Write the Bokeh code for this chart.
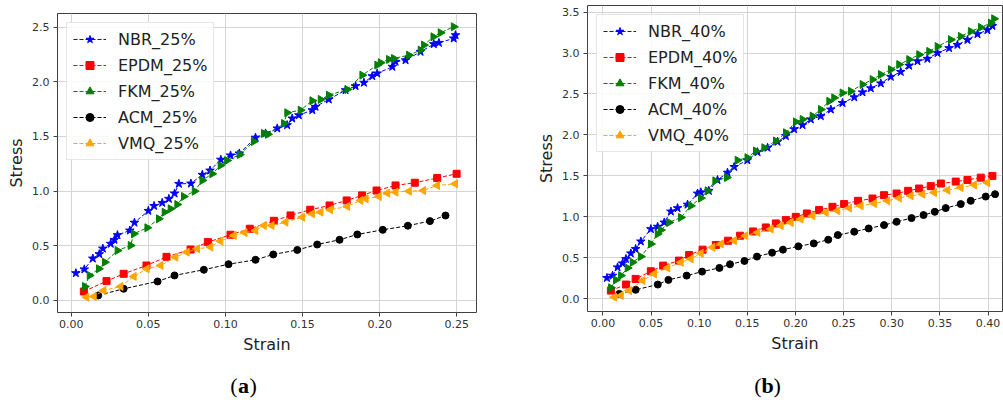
import math
from bokeh.plotting import figure
from bokeh.layouts import row, column
from bokeh.models import Range1d, FixedTicker, Legend, LegendItem, Label
from bokeh.embed import file_html
from bokeh.resources import INLINE

# ---------------- data: panel (a) 25% ----------------
nbr25_x = [0.003, 0.0085, 0.014, 0.0182, 0.0205, 0.0256, 0.028, 0.030, 0.038, 0.041, 0.050, 0.0537, 0.059, 0.0633,
           0.067, 0.0698, 0.0776, 0.085, 0.090, 0.097, 0.1033, 0.109, 0.1195, 0.126, 0.1336, 0.140, 0.1433, 0.1476,
           0.1563, 0.1584, 0.167, 0.1779, 0.1844, 0.1898, 0.1952, 0.1984, 0.2082, 0.2103, 0.2168, 0.2265, 0.2351,
           0.2384, 0.248, 0.2492]
nbr25_y = [0.25, 0.285, 0.384, 0.424, 0.475, 0.519, 0.555, 0.598, 0.64, 0.712, 0.82, 0.865, 0.893, 0.93,
           0.979, 1.067, 1.07, 1.15, 1.189, 1.288, 1.327, 1.345, 1.49, 1.528, 1.574, 1.604, 1.665, 1.695,
           1.741, 1.772, 1.839, 1.924, 1.961, 1.992, 2.052, 2.077, 2.138, 2.184, 2.198, 2.275, 2.345,
           2.357, 2.397, 2.427]

epdm25_x = [0.0082, 0.0229, 0.034, 0.0488, 0.0618, 0.0774, 0.0886, 0.1033, 0.1158, 0.1314, 0.1422, 0.155, 0.1675,
            0.1786, 0.1886, 0.198, 0.2103, 0.2228, 0.2373, 0.2499]
epdm25_y = [0.082, 0.177, 0.244, 0.320, 0.399, 0.466, 0.534, 0.601, 0.656, 0.729, 0.778, 0.830, 0.869,
            0.915, 0.961, 1.006, 1.052, 1.077, 1.12, 1.159]

fkm25_x = [0.0088, 0.0119, 0.0179, 0.0218, 0.030, 0.0385, 0.0406, 0.0493, 0.0568, 0.0605, 0.0644, 0.0687, 0.073,
           0.080, 0.085, 0.0914, 0.0968, 0.101, 0.1093, 0.1184, 0.1249, 0.1275, 0.1379, 0.140, 0.1487, 0.1563,
           0.1617, 0.167, 0.179, 0.1887, 0.1984, 0.2006, 0.206, 0.2092, 0.219, 0.2265, 0.2287, 0.2348, 0.2395, 0.248]
fkm25_y = [0.128, 0.229, 0.29, 0.35, 0.457, 0.503, 0.61, 0.665, 0.747, 0.808, 0.839, 0.878, 0.951,
           1.0, 1.098, 1.159, 1.235, 1.28, 1.335, 1.455, 1.528, 1.52, 1.619, 1.717, 1.741, 1.827,
           1.839, 1.878, 1.93, 2.061, 2.153, 2.175, 2.205, 2.214, 2.244, 2.29, 2.336, 2.412, 2.449, 2.504]

acm25_x = [0.0175, 0.034, 0.056, 0.067, 0.086, 0.102, 0.1195, 0.131, 0.1466, 0.1595, 0.174, 0.1855, 0.202, 0.2183,
           0.2326, 0.2427]
acm25_y = [0.046, 0.107, 0.174, 0.229, 0.281, 0.332, 0.372, 0.421, 0.462, 0.512, 0.555, 0.604, 0.646, 0.684,
           0.726, 0.777]

vmq25_x = [0.0099, 0.0147, 0.021, 0.032, 0.0406, 0.049, 0.058, 0.0676, 0.075, 0.0817, 0.0903, 0.0968, 0.1055,
           0.1125, 0.1195, 0.125, 0.130, 0.139, 0.1498, 0.1563, 0.1617, 0.168, 0.179, 0.1876, 0.191, 0.1995,
           0.205, 0.2103, 0.219, 0.2283, 0.2373, 0.249]
vmq25_y = [0.03, 0.037, 0.091, 0.128, 0.22, 0.29, 0.32, 0.396, 0.442, 0.473, 0.488, 0.543, 0.595,
           0.62, 0.64, 0.686, 0.686, 0.716, 0.762, 0.793, 0.808, 0.83, 0.86, 0.915, 0.93, 0.951,
           0.982, 0.991, 1.0, 1.006, 1.052, 1.067]

# ---------------- data: panel (b) 40% ----------------
nbr40_x = [0.0042, 0.010, 0.0152, 0.0204, 0.0239, 0.029, 0.034, 0.0394, 0.0498, 0.0568, 0.0637, 0.0706, 0.0775,
           0.0879, 0.0983, 0.1017, 0.110, 0.119, 0.1294, 0.1363, 0.150, 0.1606, 0.171, 0.1814, 0.19, 0.1986,
           0.2073, 0.2159, 0.2263, 0.2367, 0.2488, 0.261, 0.2696, 0.2782, 0.2886, 0.299, 0.3093, 0.318,
           0.3267, 0.337, 0.3475, 0.3595, 0.3682, 0.3786, 0.389, 0.3993, 0.4045]
nbr40_y = [0.255, 0.283, 0.384, 0.433, 0.486, 0.555, 0.608, 0.70, 0.851, 0.88, 0.932, 1.066, 1.107,
           1.15, 1.285, 1.30, 1.318, 1.45, 1.54, 1.61, 1.691, 1.79, 1.844, 1.917, 1.987, 2.07,
           2.12, 2.19, 2.23, 2.311, 2.39, 2.46, 2.52, 2.57, 2.63, 2.71, 2.77, 2.845,
           2.9, 2.93, 3.0, 3.06, 3.10, 3.16, 3.23, 3.28, 3.33]

epdm40_x = [0.0083, 0.0239, 0.034, 0.0498, 0.0626, 0.079, 0.0896, 0.1035, 0.1173, 0.130, 0.1425, 0.156, 0.1692,
            0.1796, 0.19, 0.2003, 0.2118, 0.2245, 0.2384, 0.2505, 0.265, 0.28, 0.292, 0.305, 0.317, 0.3284,
            0.3405, 0.351, 0.3664, 0.3786, 0.3924, 0.4045]
epdm40_y = [0.10, 0.174, 0.243, 0.336, 0.405, 0.466, 0.535, 0.60, 0.657, 0.709, 0.770, 0.822, 0.871,
            0.92, 0.961, 1.0, 1.041, 1.083, 1.123, 1.156, 1.196, 1.224, 1.265, 1.285, 1.318, 1.346,
            1.375, 1.407, 1.431, 1.451, 1.479, 1.50]

fkm40_x = [0.0083, 0.0135, 0.0187, 0.0256, 0.0308, 0.0394, 0.0498, 0.0568, 0.0602, 0.0688, 0.081, 0.0913, 0.1017,
           0.1087, 0.1166, 0.1287, 0.1398, 0.150, 0.1588, 0.1675, 0.1796, 0.19, 0.2003, 0.2073, 0.2177, 0.2263,
           0.235, 0.2401, 0.2488, 0.2574, 0.2696, 0.28, 0.2886, 0.299, 0.3076, 0.318, 0.3284, 0.3388, 0.3475,
           0.3613, 0.3716, 0.382, 0.3924, 0.4028, 0.4062]
fkm40_y = [0.134, 0.231, 0.283, 0.377, 0.445, 0.515, 0.669, 0.791, 0.839, 0.932, 0.993, 1.135, 1.229,
           1.318, 1.44, 1.48, 1.691, 1.723, 1.804, 1.844, 1.926, 2.027, 2.16, 2.19, 2.23, 2.311,
           2.412, 2.453, 2.513, 2.534, 2.616, 2.676, 2.737, 2.798, 2.859, 2.92, 2.98, 3.02, 3.08,
           3.163, 3.203, 3.264, 3.313, 3.365, 3.418]

acm40_x = [0.017, 0.034, 0.057, 0.068, 0.087, 0.103, 0.121, 0.132, 0.147, 0.160, 0.1757, 0.187, 0.203, 0.219,
           0.234, 0.244, 0.261, 0.276, 0.292, 0.305, 0.3205, 0.333, 0.3447, 0.356, 0.3716, 0.382, 0.3976, 0.4073]
acm40_y = [0.06, 0.11, 0.174, 0.231, 0.283, 0.332, 0.377, 0.421, 0.462, 0.515, 0.563, 0.60, 0.64, 0.676,
           0.721, 0.778, 0.819, 0.859, 0.90, 0.94, 0.985, 1.022, 1.062, 1.107, 1.156, 1.196, 1.248, 1.277]

vmq40_x = [0.0117, 0.0187, 0.0273, 0.0412, 0.0533, 0.0671, 0.081, 0.0913, 0.1017, 0.1138, 0.1225, 0.1363, 0.148,
           0.1606, 0.1744, 0.1848, 0.1952, 0.2055, 0.2177, 0.2315, 0.2436, 0.2557, 0.2678, 0.2816, 0.2955,
           0.3076, 0.3197, 0.3319, 0.344, 0.3578, 0.3716, 0.3855, 0.3993]
vmq40_y = [0.02, 0.04, 0.10, 0.223, 0.304, 0.377, 0.445, 0.487, 0.555, 0.628, 0.669, 0.709, 0.77,
           0.81, 0.852, 0.892, 0.932, 0.973, 1.013, 1.054, 1.074, 1.107, 1.135, 1.163, 1.196,
           1.229, 1.257, 1.277, 1.297, 1.326, 1.358, 1.39, 1.418]

# ---------------- ticks / labels ----------------
xticks_a = [0.00, 0.05, 0.10, 0.15, 0.20, 0.25]
yticks_a = [0.0, 0.5, 1.0, 1.5, 2.0, 2.5]
xticks_b = [0.00, 0.05, 0.10, 0.15, 0.20, 0.25, 0.30, 0.35, 0.40]
yticks_b = [0.0, 0.5, 1.0, 1.5, 2.0, 2.5, 3.0, 3.5]

series_names = ["NBR", "EPDM", "FKM", "ACM", "VMQ"]
colors = ["blue", "red", "green", "black", "orange"]
markers = ["star", "square", "triangle", "circle", "triangle"]
angles = [0.0, 0.0, -math.pi / 2, 0.0, math.pi / 2]
sizes = [9, 7, 8, 7, 8]

FONT = "DejaVu Sans"
CAP_FONT = "Liberation Serif"
MAIN_H = 370
CAP_H = 30


def make_panel(width, xr, yr, xticks, yticks, data, pct, borders):
    bl, br, bt, bb = borders
    p = figure(width=width, height=MAIN_H, output_backend="svg", toolbar_location=None,
               x_range=Range1d(*xr), y_range=Range1d(*yr),
               min_border_left=bl, min_border_right=br, min_border_top=bt, min_border_bottom=bb)
    p.background_fill_color = "white"
    p.border_fill_color = "white"
    p.outline_line_color = "#404040"
    p.outline_line_width = 1

    p.xaxis.ticker = FixedTicker(ticks=xticks)
    p.yaxis.ticker = FixedTicker(ticks=yticks)
    p.xaxis.major_label_overrides = {t: f"{t:.2f}" for t in xticks}
    p.yaxis.major_label_overrides = {t: f"{t:.1f}" for t in yticks}
    for ax in (p.xaxis, p.yaxis):
        ax.axis_line_color = None
        ax.major_tick_line_color = "#404040"
        ax.major_tick_out = 4
        ax.major_tick_in = 0
        ax.minor_tick_line_color = None
        ax.major_label_text_font = FONT
        ax.major_label_text_font_size = "11px"
        ax.major_label_text_color = "#333333"
        ax.axis_label_text_font = FONT
        ax.axis_label_text_font_size = "16px"
        ax.axis_label_text_font_style = "normal"
        ax.axis_label_text_color = "#222222"
    p.xaxis.major_label_standoff = 3
    p.yaxis.major_label_standoff = 4
    p.xaxis.axis_label = "Strain"
    p.yaxis.axis_label = "Stress"
    p.xaxis.axis_label_standoff = 4
    p.yaxis.axis_label_standoff = 3

    p.xgrid.grid_line_color = "#d4d4d4"
    p.ygrid.grid_line_color = "#d4d4d4"
    p.xgrid.grid_line_width = 1
    p.ygrid.grid_line_width = 1

    items = []
    for (xs, ys), name, c, m, a, s in zip(data, series_names, colors, markers, angles, sizes):
        ln = p.line(xs, ys, line_color=c, line_width=1, line_dash="4 2")
        sc = p.scatter(xs, ys, marker=m, size=s, angle=a, fill_color=c, line_color=c)
        items.append(LegendItem(label=f"{name}_{pct}", renderers=[ln, sc]))

    leg = Legend(items=items, location="top_left")
    leg.label_text_font = FONT
    leg.label_text_font_size = "16px"
    leg.label_text_color = "#222222"
    leg.label_height = 20
    leg.glyph_height = 20
    leg.glyph_width = 33
    leg.spacing = 6
    leg.padding = 6
    leg.margin = 9
    leg.label_standoff = 12
    leg.border_line_color = "#cccccc"
    leg.border_line_width = 1
    leg.background_fill_alpha = 0.85
    p.add_layout(leg, "center")
    return p


def make_caption(width, letter, cap_x):
    c = figure(width=width, height=CAP_H, output_backend="svg", toolbar_location=None,
               x_axis_type=None, y_axis_type=None, x_range=Range1d(0, 1), y_range=Range1d(0, 1),
               min_border=0, min_border_left=0, min_border_right=0, min_border_top=0, min_border_bottom=0)
    c.outline_line_color = None
    c.xgrid.visible = False
    c.ygrid.visible = False
    c.background_fill_color = "white"
    c.border_fill_color = "white"
    half = 6
    common = dict(y=15, x_units="screen", y_units="screen", text_font=CAP_FONT,
                  text_font_size="22px", text_color="black", text_baseline="middle")
    c.add_layout(Label(x=cap_x, text=letter, text_align="center", text_font_style="bold", **common))
    c.add_layout(Label(x=cap_x - half, text="(", text_align="right", **common))
    c.add_layout(Label(x=cap_x + half, text=")", text_align="left", **common))
    return c


pa = make_panel(500, (-0.0089, 0.2628), (-0.11, 2.625), xticks_a, yticks_a,
                [(nbr25_x, nbr25_y), (epdm25_x, epdm25_y), (fkm25_x, fkm25_y), (acm25_x, acm25_y), (vmq25_x, vmq25_y)],
                "25%", (57, 24, 13, MAIN_H - 312))
pb = make_panel(503, (-0.016, 0.415), (-0.155, 3.58), xticks_b, yticks_b,
                [(nbr40_x, nbr40_y), (epdm40_x, epdm40_y), (fkm40_x, fkm40_y), (acm40_x, acm40_y), (vmq40_x, vmq40_y)],
                "40%", (87, 1, 5, MAIN_H - 311))
ca = make_caption(500, "a", 186)
cb = make_caption(503, "b", 180)

layout = row(column(pa, ca), column(pb, cb))
open("out.html", "w").write(file_html(layout, INLINE))
